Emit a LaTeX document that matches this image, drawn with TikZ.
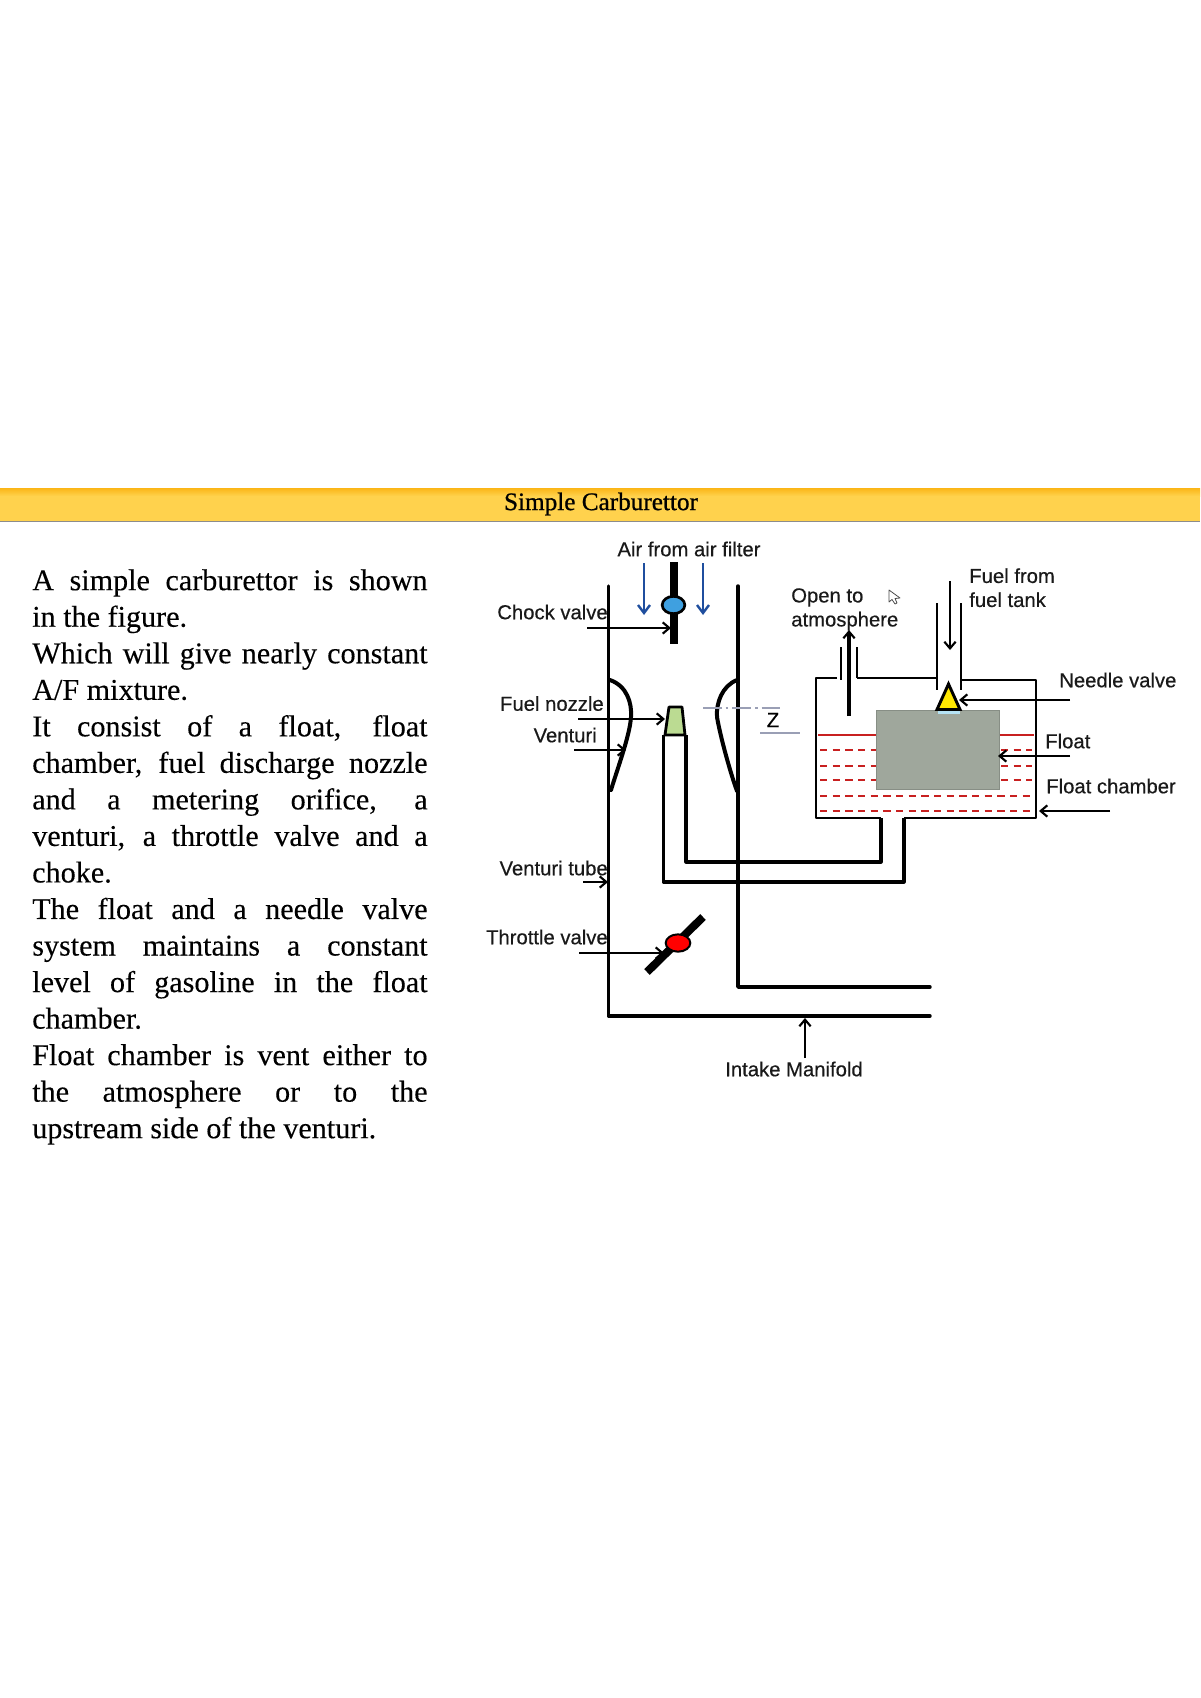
\documentclass[tikz,border=0pt]{standalone}
\usepackage{fontspec}
\setmainfont[FakeBold=0.25]{Liberation Serif}
\newfontfamily\labelfont[FakeBold=0.4]{Liberation Sans}
\newfontfamily\titlefont[FakeBold=0.8]{Liberation Serif}
\usetikzlibrary{arrows.meta,shapes.geometric}
\definecolor{bandtop}{HTML}{FBB516}
\definecolor{bandbot}{HTML}{FFD24D}
\definecolor{airblue}{HTML}{1F4E9E}
\definecolor{chokefill}{HTML}{3FA0E0}
\definecolor{floatgrey}{HTML}{9FA79C}
\definecolor{nozgreen}{HTML}{BBDB92}
\definecolor{zgrey}{HTML}{9A9FB5}
\definecolor{fuelred}{HTML}{C82020}
\tikzset{
  wall/.style={line width=2.6pt,black,line cap=round,line join=round},
  thinwall/.style={line width=2.1pt,black,line join=round},
  callout/.style={line width=1.7pt,black,-{Straight Barb[length=5pt,width=8.5pt,line width=1.6pt]}},
  airflow/.style={line width=1.8pt,airblue,-{Straight Barb[length=6pt,width=9pt,line width=1.8pt]}},
  lab/.style={font=\labelfont\fontsize{15.2}{18}\selectfont,inner sep=0pt,text=black!90},
  fuelsurface/.style={line width=2pt,fuelred},
  fueldash/.style={line width=1.6pt,fuelred,dash pattern=on 5.5pt off 4pt},
  zline/.style={line width=1pt,zgrey},
}
\newcommand{\bline}[1]{\makebox[296.5pt][s]{#1}}
\begin{document}
\begin{tikzpicture}[x=0.75pt,y=-0.75pt]
\useasboundingbox (0,0) rectangle (1200,1698);
\fill[white] (0,0) rectangle (1200,1698);
% header
\fill[bandbot] (0,488) rectangle (1200,521);
\shade[top color=bandtop,bottom color=bandbot] (0,488) rectangle (1200,496);
\draw[line width=1.2pt,black!45] (0,521.5) -- (1200,521.5);
\node[inner sep=0pt,font=\titlefont\fontsize{18.9}{22}\selectfont] (title) at (601,504) {Simple Carburettor};
% body text
\node[anchor=north west,inner sep=0pt,align=left,font=\fontsize{22.6}{27.4}\selectfont] (body) at (32,569) {%
\bline{A simple carburettor is shown}\\
in the figure.\\
\bline{Which will give nearly constant}\\
A/F mixture.\\
\bline{It consist of a float, float}\\
\bline{chamber, fuel discharge nozzle}\\
\bline{and a metering orifice, a}\\
\bline{venturi, a throttle valve and a}\\
choke.\\
\bline{The float and a needle valve}\\
\bline{system maintains a constant}\\
\bline{level of gasoline in the float}\\
chamber.\\
\bline{Float chamber is vent either to}\\
\bline{the atmosphere or to the}\\
upstream side of the venturi.};
% fuel
\draw[fuelsurface] (818,735) -- (877,735) (1000,735) -- (1034,735);
\foreach \yy in {750,766,780}{
  \draw[fueldash] (820,\yy) -- (876,\yy) (1001,\yy) -- (1032,\yy);}
\foreach \yy in {796,811}{
  \draw[fueldash] (820,\yy) -- (1032,\yy);}
% float
\node[draw=floatgrey!85!black,line width=0.5pt,fill=floatgrey,minimum width=92.5pt,minimum height=59.5pt,inner sep=0pt,anchor=north west] (float) at (876,710) {};
% needle valve
\fill[black!10!cyan!30] (938,710) rectangle (960,714);
\draw[line width=2.2pt,fill=yellow!90!orange,line join=miter] (948.5,684) -- (960,709.5) -- (937,709.5) -- cycle;
\coordinate (needle) at (959,700);
% walls of the venturi tube
\coordinate (lt) at (608.5,586);
\coordinate (lb) at (608.5,1016);
\coordinate (be) at (930,1016);
\coordinate (rt) at (738,586);
\coordinate (rb) at (738,987);
\coordinate (re) at (930,987);
\draw[wall] (lt) -- (lb) -- (be);
\draw[wall] (rt) -- (rb) -- (re);
% venturi throat
\draw[wall,line width=3pt] (610,680) .. controls (627,686) and (632,703) .. (631,717) .. controls (630,735) and (617,770) .. (611,790);
\draw[wall,line width=3pt] (737,680) .. controls (722,686) and (716,703) .. (717,717) .. controls (720,735) and (730,772) .. (737,791);
% choke
\draw[line width=6pt] (674,562) -- (674,644);
\node[draw,line width=2pt,fill=chokefill,ellipse,minimum width=17pt,minimum height=13pt,inner sep=0pt] (choke) at (673.5,605) {};
\coordinate (chokeshaft) at (671,628);
% air
\coordinate (a1s) at (644,563); \coordinate (a1e) at (644,615);
\coordinate (a2s) at (703,563); \coordinate (a2e) at (703,615);
\draw[airflow] (a1s) -- (a1e);
\draw[airflow] (a2s) -- (a2e);
% nozzle
\fill[nozgreen] (668,708) -- (682,708) -- (684,734) -- (665,734) -- cycle;
\draw[thinwall] (669,707) -- (682,707) -- (685,735) -- (665,735) -- cycle;
\coordinate (noz) at (665,719);
% fuel line
\draw[thinwall,line width=2.3pt] (663.5,735) -- (663.5,882) -- (904,882) -- (904,818);
\draw[thinwall,line width=2.3pt] (686,735) -- (686,862) -- (881,862) -- (881,818);
% chamber
\draw[thinwall] (837,678) -- (816,678) -- (816,818) -- (881,818);
\draw[thinwall] (904,818) -- (1036,818) -- (1036,680) -- (961,680);
\draw[thinwall] (857,678) -- (937,678);
\draw[thinwall] (841,647) -- (841,680);
\draw[thinwall] (857,647) -- (857,678);
\draw[thinwall] (937,603) -- (937,690);
\draw[thinwall] (961,603) -- (961,690);
% throttle
\draw[line width=6pt] (647,972) -- (703,917);
\node[draw,line width=1.5pt,fill=red,ellipse,minimum width=18.5pt,minimum height=13pt,inner sep=0pt] (throttle) at (678,943) {};
\coordinate (plate) at (664,953);
% z
\draw[zline,dash pattern=on 14pt off 3pt on 2pt off 3pt] (703,708) -- (783,708);
\draw[zline] (760,733) -- (800,733);
\node[inner sep=0pt,font=\labelfont\fontsize{15.5}{18}\selectfont] (zlab) at (773,720) {Z};
% labels
\node[lab] (lair) at (689,549) {Air from air filter};
\node[lab,anchor=east] (lchoke) at (608,612) {Chock valve};
\node[lab,anchor=east] (lnoz) at (604,703.5) {Fuel nozzle};
\node[lab,anchor=east] (lven) at (597,735) {Venturi};
\node[lab,anchor=east] (ltube) at (608,868) {Venturi tube};
\node[lab,anchor=east] (lthr) at (608,937) {Throttle valve};
\node[lab] (lint) at (794,1069) {Intake Manifold};
\node[lab,anchor=north west,align=left] (lopen) at (791,588) {Open to\\atmosphere};
\node[lab,anchor=north west,align=left] (lfuel) at (969,568) {Fuel from\\fuel tank};
\node[lab,anchor=west] (lneedle) at (1059,680) {Needle valve};
\node[lab,anchor=west] (lfloat) at (1045,741) {Float};
\node[lab,anchor=west] (lchamber) at (1046,786) {Float chamber};
% callouts
\coordinate (c1) at (587,628);
\coordinate (c2) at (578,719);
\coordinate (c3) at (574,750);
\coordinate (c3e) at (626,750);
\coordinate (c4) at (583,882);
\coordinate (c4e) at (608,882);
\coordinate (c5) at (579,953);
\coordinate (c6) at (805,1058);
\coordinate (c6e) at (805,1018);
\coordinate (c7) at (849,716);
\coordinate (c7e) at (849,630);
\coordinate (c8) at (950,581);
\coordinate (c8e) at (950,650);
\coordinate (c9) at (1070,700);
\coordinate (c10) at (1070,756);
\coordinate (c10e) at (998,756);
\coordinate (c11) at (1110,811);
\coordinate (c11e) at (1039,811);
\draw[callout] (c1) -- (chokeshaft);
\draw[callout] (c2) -- (noz);
\draw[callout] (c3) -- (c3e);
\draw[callout] (c4) -- (c4e);
\draw[callout,line width=1.1pt] (c5) -- (plate);
\draw[callout] (c6) -- (c6e);
\draw[callout,line width=2.8pt] (c7) -- (c7e);
\draw[callout] (c8) -- (c8e);
\draw[callout] (c9) -- (needle);
\draw[callout] (c10) -- (c10e);
\draw[callout] (c11) -- (c11e);
% pointer
\draw[line width=0.6pt,black!70,fill=white,line join=round] (889,590) -- (889,602) -- (892,599.5) -- (895,604) -- (897,603) -- (895,598.5) -- (900,598) -- cycle;
\end{tikzpicture}
\end{document}
